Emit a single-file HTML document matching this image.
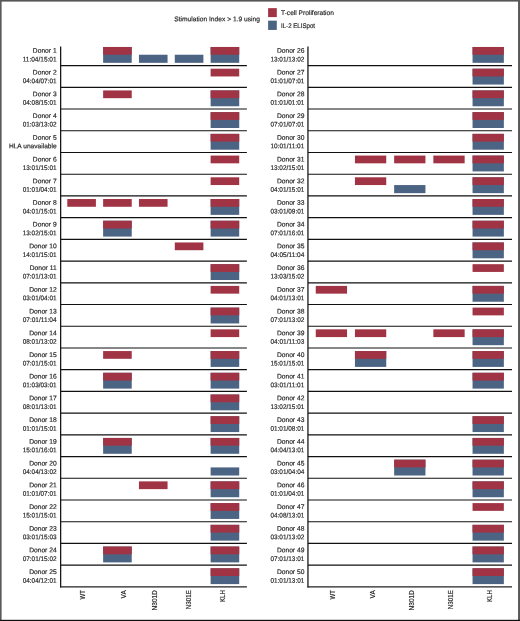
<!DOCTYPE html>
<html lang="en"><head><meta charset="utf-8"><title>Stimulation Index chart</title>
<style>html,body{margin:0;padding:0;background:#fff}svg{display:block}</style></head>
<body>
<svg width="520" height="621" viewBox="0 0 520 621">
<rect x="0" y="0" width="520" height="621" fill="#fff"/>
<g>
<rect x="103.13" y="46.98" width="28.6" height="15.85" fill="#4C6484"/>
<rect x="103.13" y="46.98" width="28.6" height="7.75" fill="#A13444"/>
<rect x="138.96" y="54.73" width="28.6" height="8.1" fill="#4C6484"/>
<rect x="174.79" y="54.73" width="28.6" height="8.1" fill="#4C6484"/>
<rect x="210.62" y="46.98" width="28.6" height="15.85" fill="#4C6484"/>
<rect x="210.62" y="46.98" width="28.6" height="7.75" fill="#A13444"/>
<rect x="210.62" y="68.70" width="28.6" height="7.75" fill="#A13444"/>
<rect x="103.13" y="90.42" width="28.6" height="7.75" fill="#A13444"/>
<rect x="210.62" y="90.42" width="28.6" height="15.85" fill="#4C6484"/>
<rect x="210.62" y="90.42" width="28.6" height="7.75" fill="#A13444"/>
<rect x="210.62" y="112.14" width="28.6" height="15.85" fill="#4C6484"/>
<rect x="210.62" y="112.14" width="28.6" height="7.75" fill="#A13444"/>
<rect x="210.62" y="133.86" width="28.6" height="15.85" fill="#4C6484"/>
<rect x="210.62" y="133.86" width="28.6" height="7.75" fill="#A13444"/>
<rect x="210.62" y="155.58" width="28.6" height="7.75" fill="#A13444"/>
<rect x="210.62" y="177.30" width="28.6" height="7.75" fill="#A13444"/>
<rect x="67.30" y="199.02" width="28.6" height="7.75" fill="#A13444"/>
<rect x="103.13" y="199.02" width="28.6" height="7.75" fill="#A13444"/>
<rect x="138.96" y="199.02" width="28.6" height="7.75" fill="#A13444"/>
<rect x="210.62" y="199.02" width="28.6" height="15.85" fill="#4C6484"/>
<rect x="210.62" y="199.02" width="28.6" height="7.75" fill="#A13444"/>
<rect x="103.13" y="220.74" width="28.6" height="15.85" fill="#4C6484"/>
<rect x="103.13" y="220.74" width="28.6" height="7.75" fill="#A13444"/>
<rect x="210.62" y="220.74" width="28.6" height="15.85" fill="#4C6484"/>
<rect x="210.62" y="220.74" width="28.6" height="7.75" fill="#A13444"/>
<rect x="174.79" y="242.46" width="28.6" height="7.75" fill="#A13444"/>
<rect x="210.62" y="264.18" width="28.6" height="15.85" fill="#4C6484"/>
<rect x="210.62" y="264.18" width="28.6" height="7.75" fill="#A13444"/>
<rect x="210.62" y="285.90" width="28.6" height="7.75" fill="#A13444"/>
<rect x="210.62" y="307.62" width="28.6" height="15.85" fill="#4C6484"/>
<rect x="210.62" y="307.62" width="28.6" height="7.75" fill="#A13444"/>
<rect x="210.62" y="329.34" width="28.6" height="7.75" fill="#A13444"/>
<rect x="103.13" y="351.06" width="28.6" height="7.75" fill="#A13444"/>
<rect x="210.62" y="351.06" width="28.6" height="15.85" fill="#4C6484"/>
<rect x="210.62" y="351.06" width="28.6" height="7.75" fill="#A13444"/>
<rect x="103.13" y="372.78" width="28.6" height="15.85" fill="#4C6484"/>
<rect x="103.13" y="372.78" width="28.6" height="7.75" fill="#A13444"/>
<rect x="210.62" y="372.78" width="28.6" height="15.85" fill="#4C6484"/>
<rect x="210.62" y="372.78" width="28.6" height="7.75" fill="#A13444"/>
<rect x="210.62" y="394.50" width="28.6" height="15.85" fill="#4C6484"/>
<rect x="210.62" y="394.50" width="28.6" height="7.75" fill="#A13444"/>
<rect x="210.62" y="416.22" width="28.6" height="15.85" fill="#4C6484"/>
<rect x="210.62" y="416.22" width="28.6" height="7.75" fill="#A13444"/>
<rect x="103.13" y="437.94" width="28.6" height="15.85" fill="#4C6484"/>
<rect x="103.13" y="437.94" width="28.6" height="7.75" fill="#A13444"/>
<rect x="210.62" y="437.94" width="28.6" height="15.85" fill="#4C6484"/>
<rect x="210.62" y="437.94" width="28.6" height="7.75" fill="#A13444"/>
<rect x="210.62" y="467.41" width="28.6" height="8.1" fill="#4C6484"/>
<rect x="138.96" y="481.38" width="28.6" height="7.75" fill="#A13444"/>
<rect x="210.62" y="481.38" width="28.6" height="15.85" fill="#4C6484"/>
<rect x="210.62" y="481.38" width="28.6" height="7.75" fill="#A13444"/>
<rect x="210.62" y="503.10" width="28.6" height="15.85" fill="#4C6484"/>
<rect x="210.62" y="503.10" width="28.6" height="7.75" fill="#A13444"/>
<rect x="210.62" y="524.82" width="28.6" height="15.85" fill="#4C6484"/>
<rect x="210.62" y="524.82" width="28.6" height="7.75" fill="#A13444"/>
<rect x="103.13" y="546.54" width="28.6" height="15.85" fill="#4C6484"/>
<rect x="103.13" y="546.54" width="28.6" height="7.75" fill="#A13444"/>
<rect x="210.62" y="546.54" width="28.6" height="15.85" fill="#4C6484"/>
<rect x="210.62" y="546.54" width="28.6" height="7.75" fill="#A13444"/>
<rect x="210.62" y="568.26" width="28.6" height="15.85" fill="#4C6484"/>
<rect x="210.62" y="568.26" width="28.6" height="7.75" fill="#A13444"/>
</g>
<g>
<rect x="472.55" y="46.98" width="31.3" height="15.85" fill="#4C6484"/>
<rect x="472.55" y="46.98" width="31.3" height="7.75" fill="#A13444"/>
<rect x="472.55" y="68.70" width="31.3" height="15.85" fill="#4C6484"/>
<rect x="472.55" y="68.70" width="31.3" height="7.75" fill="#A13444"/>
<rect x="472.55" y="90.42" width="31.3" height="15.85" fill="#4C6484"/>
<rect x="472.55" y="90.42" width="31.3" height="7.75" fill="#A13444"/>
<rect x="472.55" y="112.14" width="31.3" height="15.85" fill="#4C6484"/>
<rect x="472.55" y="112.14" width="31.3" height="7.75" fill="#A13444"/>
<rect x="472.55" y="133.86" width="31.3" height="15.85" fill="#4C6484"/>
<rect x="472.55" y="133.86" width="31.3" height="7.75" fill="#A13444"/>
<rect x="354.95" y="155.58" width="31.3" height="7.75" fill="#A13444"/>
<rect x="394.15" y="155.58" width="31.3" height="7.75" fill="#A13444"/>
<rect x="433.35" y="155.58" width="31.3" height="7.75" fill="#A13444"/>
<rect x="472.55" y="155.58" width="31.3" height="15.85" fill="#4C6484"/>
<rect x="472.55" y="155.58" width="31.3" height="7.75" fill="#A13444"/>
<rect x="354.95" y="177.30" width="31.3" height="7.75" fill="#A13444"/>
<rect x="394.15" y="185.05" width="31.3" height="8.1" fill="#4C6484"/>
<rect x="472.55" y="177.30" width="31.3" height="15.85" fill="#4C6484"/>
<rect x="472.55" y="177.30" width="31.3" height="7.75" fill="#A13444"/>
<rect x="472.55" y="199.02" width="31.3" height="15.85" fill="#4C6484"/>
<rect x="472.55" y="199.02" width="31.3" height="7.75" fill="#A13444"/>
<rect x="472.55" y="220.74" width="31.3" height="15.85" fill="#4C6484"/>
<rect x="472.55" y="220.74" width="31.3" height="7.75" fill="#A13444"/>
<rect x="472.55" y="242.46" width="31.3" height="15.85" fill="#4C6484"/>
<rect x="472.55" y="242.46" width="31.3" height="7.75" fill="#A13444"/>
<rect x="472.55" y="264.18" width="31.3" height="7.75" fill="#A13444"/>
<rect x="315.75" y="285.90" width="31.3" height="7.75" fill="#A13444"/>
<rect x="472.55" y="285.90" width="31.3" height="15.85" fill="#4C6484"/>
<rect x="472.55" y="285.90" width="31.3" height="7.75" fill="#A13444"/>
<rect x="472.55" y="307.62" width="31.3" height="7.75" fill="#A13444"/>
<rect x="315.75" y="329.34" width="31.3" height="7.75" fill="#A13444"/>
<rect x="354.95" y="329.34" width="31.3" height="7.75" fill="#A13444"/>
<rect x="433.35" y="329.34" width="31.3" height="7.75" fill="#A13444"/>
<rect x="472.55" y="329.34" width="31.3" height="15.85" fill="#4C6484"/>
<rect x="472.55" y="329.34" width="31.3" height="7.75" fill="#A13444"/>
<rect x="354.95" y="351.06" width="31.3" height="15.85" fill="#4C6484"/>
<rect x="354.95" y="351.06" width="31.3" height="7.75" fill="#A13444"/>
<rect x="472.55" y="351.06" width="31.3" height="15.85" fill="#4C6484"/>
<rect x="472.55" y="351.06" width="31.3" height="7.75" fill="#A13444"/>
<rect x="472.55" y="372.78" width="31.3" height="15.85" fill="#4C6484"/>
<rect x="472.55" y="372.78" width="31.3" height="7.75" fill="#A13444"/>
<rect x="472.55" y="416.22" width="31.3" height="15.85" fill="#4C6484"/>
<rect x="472.55" y="416.22" width="31.3" height="7.75" fill="#A13444"/>
<rect x="472.55" y="437.94" width="31.3" height="15.85" fill="#4C6484"/>
<rect x="472.55" y="437.94" width="31.3" height="7.75" fill="#A13444"/>
<rect x="394.15" y="459.66" width="31.3" height="15.85" fill="#4C6484"/>
<rect x="394.15" y="459.66" width="31.3" height="7.75" fill="#A13444"/>
<rect x="472.55" y="459.66" width="31.3" height="15.85" fill="#4C6484"/>
<rect x="472.55" y="459.66" width="31.3" height="7.75" fill="#A13444"/>
<rect x="472.55" y="481.38" width="31.3" height="15.85" fill="#4C6484"/>
<rect x="472.55" y="481.38" width="31.3" height="7.75" fill="#A13444"/>
<rect x="472.55" y="503.10" width="31.3" height="7.75" fill="#A13444"/>
<rect x="472.55" y="524.82" width="31.3" height="15.85" fill="#4C6484"/>
<rect x="472.55" y="524.82" width="31.3" height="7.75" fill="#A13444"/>
<rect x="472.55" y="546.54" width="31.3" height="15.85" fill="#4C6484"/>
<rect x="472.55" y="546.54" width="31.3" height="7.75" fill="#A13444"/>
<rect x="472.55" y="568.26" width="31.3" height="15.85" fill="#4C6484"/>
<rect x="472.55" y="568.26" width="31.3" height="7.75" fill="#A13444"/>
</g>
<g stroke="#111" stroke-width="1.15" fill="none">
<line x1="60.65" y1="46.4" x2="60.65" y2="587.4" stroke-width="1.25"/>
<line x1="60.65" y1="65.60" x2="246.9" y2="65.60"/>
<line x1="60.65" y1="87.32" x2="246.9" y2="87.32"/>
<line x1="60.65" y1="109.04" x2="246.9" y2="109.04"/>
<line x1="60.65" y1="130.76" x2="246.9" y2="130.76"/>
<line x1="60.65" y1="152.48" x2="246.9" y2="152.48"/>
<line x1="60.65" y1="174.20" x2="246.9" y2="174.20"/>
<line x1="60.65" y1="195.92" x2="246.9" y2="195.92"/>
<line x1="60.65" y1="217.64" x2="246.9" y2="217.64"/>
<line x1="60.65" y1="239.36" x2="246.9" y2="239.36"/>
<line x1="60.65" y1="261.08" x2="246.9" y2="261.08"/>
<line x1="60.65" y1="282.80" x2="246.9" y2="282.80"/>
<line x1="60.65" y1="304.52" x2="246.9" y2="304.52"/>
<line x1="60.65" y1="326.24" x2="246.9" y2="326.24"/>
<line x1="60.65" y1="347.96" x2="246.9" y2="347.96"/>
<line x1="60.65" y1="369.68" x2="246.9" y2="369.68"/>
<line x1="60.65" y1="391.40" x2="246.9" y2="391.40"/>
<line x1="60.65" y1="413.12" x2="246.9" y2="413.12"/>
<line x1="60.65" y1="434.84" x2="246.9" y2="434.84"/>
<line x1="60.65" y1="456.56" x2="246.9" y2="456.56"/>
<line x1="60.65" y1="478.28" x2="246.9" y2="478.28"/>
<line x1="60.65" y1="500.00" x2="246.9" y2="500.00"/>
<line x1="60.65" y1="521.72" x2="246.9" y2="521.72"/>
<line x1="60.65" y1="543.44" x2="246.9" y2="543.44"/>
<line x1="60.65" y1="565.16" x2="246.9" y2="565.16"/>
<line x1="60.15" y1="586.8" x2="246.9" y2="586.8" stroke-width="1.3" stroke="#222"/>
</g>
<g stroke="#111" stroke-width="1.15" fill="none">
<line x1="307.95" y1="46.4" x2="307.95" y2="587.4" stroke-width="1.25"/>
<line x1="307.95" y1="65.60" x2="512.0" y2="65.60"/>
<line x1="307.95" y1="87.32" x2="512.0" y2="87.32"/>
<line x1="307.95" y1="109.04" x2="512.0" y2="109.04"/>
<line x1="307.95" y1="130.76" x2="512.0" y2="130.76"/>
<line x1="307.95" y1="152.48" x2="512.0" y2="152.48"/>
<line x1="307.95" y1="174.20" x2="512.0" y2="174.20"/>
<line x1="307.95" y1="195.92" x2="512.0" y2="195.92"/>
<line x1="307.95" y1="217.64" x2="512.0" y2="217.64"/>
<line x1="307.95" y1="239.36" x2="512.0" y2="239.36"/>
<line x1="307.95" y1="261.08" x2="512.0" y2="261.08"/>
<line x1="307.95" y1="282.80" x2="512.0" y2="282.80"/>
<line x1="307.95" y1="304.52" x2="512.0" y2="304.52"/>
<line x1="307.95" y1="326.24" x2="512.0" y2="326.24"/>
<line x1="307.95" y1="347.96" x2="512.0" y2="347.96"/>
<line x1="307.95" y1="369.68" x2="512.0" y2="369.68"/>
<line x1="307.95" y1="391.40" x2="512.0" y2="391.40"/>
<line x1="307.95" y1="413.12" x2="512.0" y2="413.12"/>
<line x1="307.95" y1="434.84" x2="512.0" y2="434.84"/>
<line x1="307.95" y1="456.56" x2="512.0" y2="456.56"/>
<line x1="307.95" y1="478.28" x2="512.0" y2="478.28"/>
<line x1="307.95" y1="500.00" x2="512.0" y2="500.00"/>
<line x1="307.95" y1="521.72" x2="512.0" y2="521.72"/>
<line x1="307.95" y1="543.44" x2="512.0" y2="543.44"/>
<line x1="307.95" y1="565.16" x2="512.0" y2="565.16"/>
<line x1="307.45" y1="586.8" x2="512.0" y2="586.8" stroke-width="1.3" stroke="#222"/>
</g>
<g font-family="'Liberation Sans', sans-serif" font-size="6.7" fill="#1f1f1f" stroke="#1f1f1f" stroke-width="0.17">
<g text-anchor="end">
<text x="56.65" y="52.83" transform="rotate(0.03 56.65 52.83)">Donor 1</text>
<text x="56.65" y="61.43" transform="rotate(0.03 56.65 61.43)" textLength="34.0" lengthAdjust="spacingAndGlyphs">11:04/15:01</text>
<text x="56.65" y="74.55" transform="rotate(0.03 56.65 74.55)">Donor 2</text>
<text x="56.65" y="83.15" transform="rotate(0.03 56.65 83.15)" textLength="34.0" lengthAdjust="spacingAndGlyphs">04:04/07:01</text>
<text x="56.65" y="96.27" transform="rotate(0.03 56.65 96.27)">Donor 3</text>
<text x="56.65" y="104.87" transform="rotate(0.03 56.65 104.87)" textLength="34.0" lengthAdjust="spacingAndGlyphs">04:08/15:01</text>
<text x="56.65" y="117.99" transform="rotate(0.03 56.65 117.99)">Donor 4</text>
<text x="56.65" y="126.59" transform="rotate(0.03 56.65 126.59)" textLength="34.0" lengthAdjust="spacingAndGlyphs">01:03/13:02</text>
<text x="56.65" y="139.71" transform="rotate(0.03 56.65 139.71)">Donor 5</text>
<text x="56.65" y="148.31" transform="rotate(0.03 56.65 148.31)" textLength="47.7" lengthAdjust="spacingAndGlyphs">HLA unavailable</text>
<text x="56.65" y="161.43" transform="rotate(0.03 56.65 161.43)">Donor 6</text>
<text x="56.65" y="170.03" transform="rotate(0.03 56.65 170.03)" textLength="34.0" lengthAdjust="spacingAndGlyphs">13:01/15:01</text>
<text x="56.65" y="183.15" transform="rotate(0.03 56.65 183.15)">Donor 7</text>
<text x="56.65" y="191.75" transform="rotate(0.03 56.65 191.75)" textLength="34.0" lengthAdjust="spacingAndGlyphs">01:01/04:01</text>
<text x="56.65" y="204.87" transform="rotate(0.03 56.65 204.87)">Donor 8</text>
<text x="56.65" y="213.47" transform="rotate(0.03 56.65 213.47)" textLength="34.0" lengthAdjust="spacingAndGlyphs">04:01/15:01</text>
<text x="56.65" y="226.59" transform="rotate(0.03 56.65 226.59)">Donor 9</text>
<text x="56.65" y="235.19" transform="rotate(0.03 56.65 235.19)" textLength="34.0" lengthAdjust="spacingAndGlyphs">13:02/15:01</text>
<text x="56.65" y="248.31" transform="rotate(0.03 56.65 248.31)">Donor 10</text>
<text x="56.65" y="256.91" transform="rotate(0.03 56.65 256.91)" textLength="34.0" lengthAdjust="spacingAndGlyphs">14:01/15:01</text>
<text x="56.65" y="270.03" transform="rotate(0.03 56.65 270.03)">Donor 11</text>
<text x="56.65" y="278.63" transform="rotate(0.03 56.65 278.63)" textLength="34.0" lengthAdjust="spacingAndGlyphs">07:01/13:01</text>
<text x="56.65" y="291.75" transform="rotate(0.03 56.65 291.75)">Donor 12</text>
<text x="56.65" y="300.35" transform="rotate(0.03 56.65 300.35)" textLength="34.0" lengthAdjust="spacingAndGlyphs">03:01/04:01</text>
<text x="56.65" y="313.47" transform="rotate(0.03 56.65 313.47)">Donor 13</text>
<text x="56.65" y="322.07" transform="rotate(0.03 56.65 322.07)" textLength="34.0" lengthAdjust="spacingAndGlyphs">07:01/11:04</text>
<text x="56.65" y="335.19" transform="rotate(0.03 56.65 335.19)">Donor 14</text>
<text x="56.65" y="343.79" transform="rotate(0.03 56.65 343.79)" textLength="34.0" lengthAdjust="spacingAndGlyphs">08:01/13:02</text>
<text x="56.65" y="356.91" transform="rotate(0.03 56.65 356.91)">Donor 15</text>
<text x="56.65" y="365.51" transform="rotate(0.03 56.65 365.51)" textLength="34.0" lengthAdjust="spacingAndGlyphs">07:01/15:01</text>
<text x="56.65" y="378.63" transform="rotate(0.03 56.65 378.63)">Donor 16</text>
<text x="56.65" y="387.23" transform="rotate(0.03 56.65 387.23)" textLength="34.0" lengthAdjust="spacingAndGlyphs">01:03/03:01</text>
<text x="56.65" y="400.35" transform="rotate(0.03 56.65 400.35)">Donor 17</text>
<text x="56.65" y="408.95" transform="rotate(0.03 56.65 408.95)" textLength="34.0" lengthAdjust="spacingAndGlyphs">08:01/13:01</text>
<text x="56.65" y="422.07" transform="rotate(0.03 56.65 422.07)">Donor 18</text>
<text x="56.65" y="430.67" transform="rotate(0.03 56.65 430.67)" textLength="34.0" lengthAdjust="spacingAndGlyphs">01:01/15:01</text>
<text x="56.65" y="443.79" transform="rotate(0.03 56.65 443.79)">Donor 19</text>
<text x="56.65" y="452.39" transform="rotate(0.03 56.65 452.39)" textLength="34.0" lengthAdjust="spacingAndGlyphs">15:01/16:01</text>
<text x="56.65" y="465.51" transform="rotate(0.03 56.65 465.51)">Donor 20</text>
<text x="56.65" y="474.11" transform="rotate(0.03 56.65 474.11)" textLength="34.0" lengthAdjust="spacingAndGlyphs">04:04/13:02</text>
<text x="56.65" y="487.23" transform="rotate(0.03 56.65 487.23)">Donor 21</text>
<text x="56.65" y="495.83" transform="rotate(0.03 56.65 495.83)" textLength="34.0" lengthAdjust="spacingAndGlyphs">01:01/07:01</text>
<text x="56.65" y="508.95" transform="rotate(0.03 56.65 508.95)">Donor 22</text>
<text x="56.65" y="517.55" transform="rotate(0.03 56.65 517.55)" textLength="34.0" lengthAdjust="spacingAndGlyphs">15:01/15:01</text>
<text x="56.65" y="530.67" transform="rotate(0.03 56.65 530.67)">Donor 23</text>
<text x="56.65" y="539.27" transform="rotate(0.03 56.65 539.27)" textLength="34.0" lengthAdjust="spacingAndGlyphs">03:01/15:03</text>
<text x="56.65" y="552.39" transform="rotate(0.03 56.65 552.39)">Donor 24</text>
<text x="56.65" y="560.99" transform="rotate(0.03 56.65 560.99)" textLength="34.0" lengthAdjust="spacingAndGlyphs">07:01/15:02</text>
<text x="56.65" y="574.11" transform="rotate(0.03 56.65 574.11)">Donor 25</text>
<text x="56.65" y="582.71" transform="rotate(0.03 56.65 582.71)" textLength="34.0" lengthAdjust="spacingAndGlyphs">04:04/12:01</text>
</g>
<g text-anchor="end" font-size="6.7">
<text transform="translate(84.50,590.2) rotate(-90)" textLength="9.3" lengthAdjust="spacingAndGlyphs">WT</text>
<text transform="translate(126.10,590.2) rotate(-90)" textLength="8.2" lengthAdjust="spacingAndGlyphs">VA</text>
<text transform="translate(157.00,590.2) rotate(-90)" textLength="20.2" lengthAdjust="spacingAndGlyphs">N301D</text>
<text transform="translate(190.70,590.2) rotate(-90)" textLength="19.0" lengthAdjust="spacingAndGlyphs">N301E</text>
<text transform="translate(224.50,590.2) rotate(-90)" textLength="11.7" lengthAdjust="spacingAndGlyphs">KLH</text>
</g>
<g text-anchor="end">
<text x="304.4" y="52.83" transform="rotate(0.03 304.4 52.83)">Donor 26</text>
<text x="304.4" y="61.43" transform="rotate(0.03 304.4 61.43)" textLength="34.0" lengthAdjust="spacingAndGlyphs">13:01/13:02</text>
<text x="304.4" y="74.55" transform="rotate(0.03 304.4 74.55)">Donor 27</text>
<text x="304.4" y="83.15" transform="rotate(0.03 304.4 83.15)" textLength="34.0" lengthAdjust="spacingAndGlyphs">01:01/07:01</text>
<text x="304.4" y="96.27" transform="rotate(0.03 304.4 96.27)">Donor 28</text>
<text x="304.4" y="104.87" transform="rotate(0.03 304.4 104.87)" textLength="34.0" lengthAdjust="spacingAndGlyphs">01:01/01:01</text>
<text x="304.4" y="117.99" transform="rotate(0.03 304.4 117.99)">Donor 29</text>
<text x="304.4" y="126.59" transform="rotate(0.03 304.4 126.59)" textLength="34.0" lengthAdjust="spacingAndGlyphs">07:01/07:01</text>
<text x="304.4" y="139.71" transform="rotate(0.03 304.4 139.71)">Donor 30</text>
<text x="304.4" y="148.31" transform="rotate(0.03 304.4 148.31)" textLength="34.0" lengthAdjust="spacingAndGlyphs">10:01/11:01</text>
<text x="304.4" y="161.43" transform="rotate(0.03 304.4 161.43)">Donor 31</text>
<text x="304.4" y="170.03" transform="rotate(0.03 304.4 170.03)" textLength="34.0" lengthAdjust="spacingAndGlyphs">13:02/15:01</text>
<text x="304.4" y="183.15" transform="rotate(0.03 304.4 183.15)">Donor 32</text>
<text x="304.4" y="191.75" transform="rotate(0.03 304.4 191.75)" textLength="34.0" lengthAdjust="spacingAndGlyphs">04:01/15:01</text>
<text x="304.4" y="204.87" transform="rotate(0.03 304.4 204.87)">Donor 33</text>
<text x="304.4" y="213.47" transform="rotate(0.03 304.4 213.47)" textLength="34.0" lengthAdjust="spacingAndGlyphs">03:01/09:01</text>
<text x="304.4" y="226.59" transform="rotate(0.03 304.4 226.59)">Donor 34</text>
<text x="304.4" y="235.19" transform="rotate(0.03 304.4 235.19)" textLength="34.0" lengthAdjust="spacingAndGlyphs">07:01/16:01</text>
<text x="304.4" y="248.31" transform="rotate(0.03 304.4 248.31)">Donor 35</text>
<text x="304.4" y="256.91" transform="rotate(0.03 304.4 256.91)" textLength="34.0" lengthAdjust="spacingAndGlyphs">04:05/11:04</text>
<text x="304.4" y="270.03" transform="rotate(0.03 304.4 270.03)">Donor 36</text>
<text x="304.4" y="278.63" transform="rotate(0.03 304.4 278.63)" textLength="34.0" lengthAdjust="spacingAndGlyphs">13:03/15:02</text>
<text x="304.4" y="291.75" transform="rotate(0.03 304.4 291.75)">Donor 37</text>
<text x="304.4" y="300.35" transform="rotate(0.03 304.4 300.35)" textLength="34.0" lengthAdjust="spacingAndGlyphs">04:01/13:01</text>
<text x="304.4" y="313.47" transform="rotate(0.03 304.4 313.47)">Donor 38</text>
<text x="304.4" y="322.07" transform="rotate(0.03 304.4 322.07)" textLength="34.0" lengthAdjust="spacingAndGlyphs">07:01/13:02</text>
<text x="304.4" y="335.19" transform="rotate(0.03 304.4 335.19)">Donor 39</text>
<text x="304.4" y="343.79" transform="rotate(0.03 304.4 343.79)" textLength="34.0" lengthAdjust="spacingAndGlyphs">04:01/11:03</text>
<text x="304.4" y="356.91" transform="rotate(0.03 304.4 356.91)">Donor 40</text>
<text x="304.4" y="365.51" transform="rotate(0.03 304.4 365.51)" textLength="34.0" lengthAdjust="spacingAndGlyphs">15:01/15:01</text>
<text x="304.4" y="378.63" transform="rotate(0.03 304.4 378.63)">Donor 41</text>
<text x="304.4" y="387.23" transform="rotate(0.03 304.4 387.23)" textLength="34.0" lengthAdjust="spacingAndGlyphs">03:01/11:01</text>
<text x="304.4" y="400.35" transform="rotate(0.03 304.4 400.35)">Donor 42</text>
<text x="304.4" y="408.95" transform="rotate(0.03 304.4 408.95)" textLength="34.0" lengthAdjust="spacingAndGlyphs">13:02/15:01</text>
<text x="304.4" y="422.07" transform="rotate(0.03 304.4 422.07)">Donor 43</text>
<text x="304.4" y="430.67" transform="rotate(0.03 304.4 430.67)" textLength="34.0" lengthAdjust="spacingAndGlyphs">01:01/08:01</text>
<text x="304.4" y="443.79" transform="rotate(0.03 304.4 443.79)">Donor 44</text>
<text x="304.4" y="452.39" transform="rotate(0.03 304.4 452.39)" textLength="34.0" lengthAdjust="spacingAndGlyphs">04:04/13:01</text>
<text x="304.4" y="465.51" transform="rotate(0.03 304.4 465.51)">Donor 45</text>
<text x="304.4" y="474.11" transform="rotate(0.03 304.4 474.11)" textLength="34.0" lengthAdjust="spacingAndGlyphs">03:01/04:04</text>
<text x="304.4" y="487.23" transform="rotate(0.03 304.4 487.23)">Donor 46</text>
<text x="304.4" y="495.83" transform="rotate(0.03 304.4 495.83)" textLength="34.0" lengthAdjust="spacingAndGlyphs">01:01/04:01</text>
<text x="304.4" y="508.95" transform="rotate(0.03 304.4 508.95)">Donor 47</text>
<text x="304.4" y="517.55" transform="rotate(0.03 304.4 517.55)" textLength="34.0" lengthAdjust="spacingAndGlyphs">04:08/13:01</text>
<text x="304.4" y="530.67" transform="rotate(0.03 304.4 530.67)">Donor 48</text>
<text x="304.4" y="539.27" transform="rotate(0.03 304.4 539.27)" textLength="34.0" lengthAdjust="spacingAndGlyphs">03:01/13:02</text>
<text x="304.4" y="552.39" transform="rotate(0.03 304.4 552.39)">Donor 49</text>
<text x="304.4" y="560.99" transform="rotate(0.03 304.4 560.99)" textLength="34.0" lengthAdjust="spacingAndGlyphs">07:01/13:01</text>
<text x="304.4" y="574.11" transform="rotate(0.03 304.4 574.11)">Donor 50</text>
<text x="304.4" y="582.71" transform="rotate(0.03 304.4 582.71)" textLength="34.0" lengthAdjust="spacingAndGlyphs">01:01/13:01</text>
</g>
<g text-anchor="end" font-size="6.7">
<text transform="translate(335.40,590.2) rotate(-90)" textLength="9.3" lengthAdjust="spacingAndGlyphs">WT</text>
<text transform="translate(375.00,590.2) rotate(-90)" textLength="8.2" lengthAdjust="spacingAndGlyphs">VA</text>
<text transform="translate(413.50,590.2) rotate(-90)" textLength="20.2" lengthAdjust="spacingAndGlyphs">N301D</text>
<text transform="translate(453.30,590.2) rotate(-90)" textLength="19.0" lengthAdjust="spacingAndGlyphs">N301E</text>
<text transform="translate(492.00,590.2) rotate(-90)" textLength="11.7" lengthAdjust="spacingAndGlyphs">KLH</text>
</g>
<text x="174.2" y="21.2" font-size="6.7" textLength="85.8" lengthAdjust="spacingAndGlyphs" transform="rotate(0.03 174 21)">Stimulation Index &gt; 1.9 using</text>
<text x="281" y="15.1" font-size="6.7" textLength="52.9" lengthAdjust="spacingAndGlyphs" transform="rotate(0.03 281 15)">T-cell Proliferation</text>
<text x="281" y="28" font-size="6.7" textLength="34.0" lengthAdjust="spacingAndGlyphs" transform="rotate(0.03 281 28)">IL-2 ELISpot</text>
</g>
<rect x="268.1" y="8.15" width="8.7" height="8.95" fill="#A13444"/>
<rect x="268.1" y="20.65" width="8.7" height="9.3" fill="#4C6484"/>
<rect x="0" y="0" width="520" height="1.6" fill="#555"/>
<rect x="0" y="0" width="1.6" height="621" fill="#5a5a5a"/>
<rect x="518.05" y="0" width="1.95" height="621" fill="#585858"/>
<rect x="0" y="619.8" width="520" height="1.2" fill="#111"/>
</svg>
</body></html>
